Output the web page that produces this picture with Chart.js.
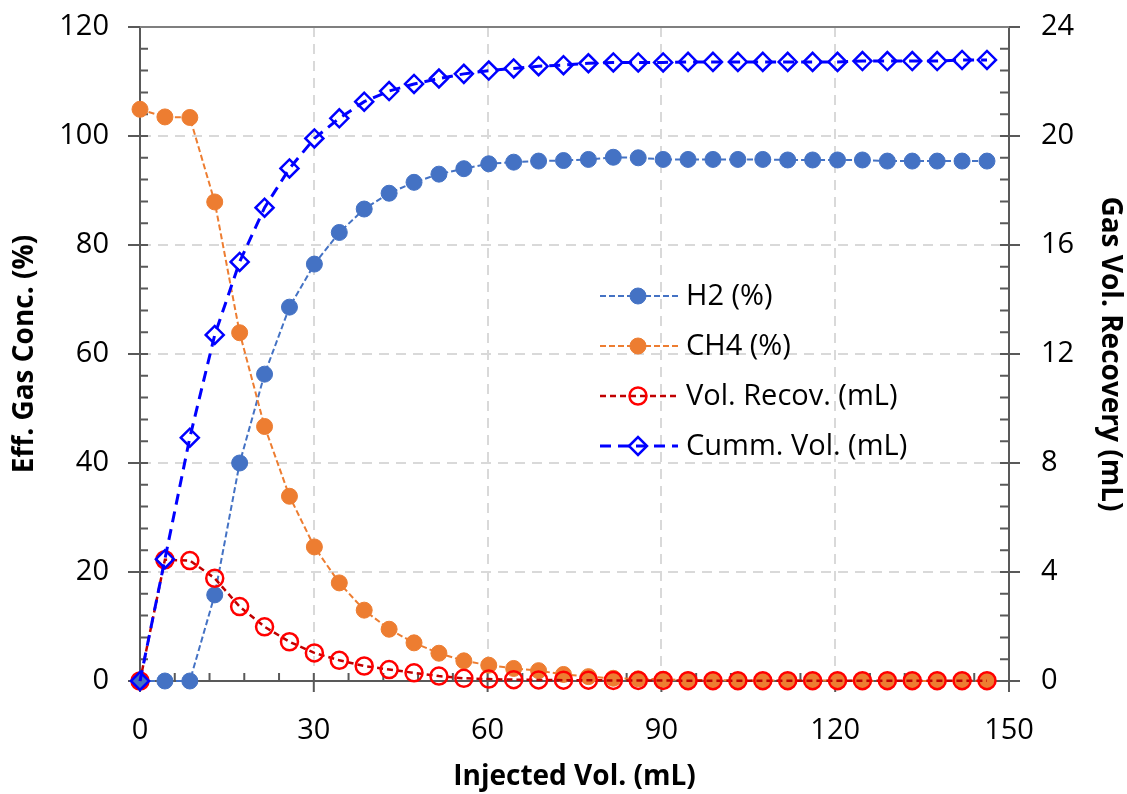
<!DOCTYPE html>
<html>
<head>
<meta charset="utf-8">
<script src="https://cdn.jsdelivr.net/npm/chart.js@4"></script>
<style>
  html, body { margin: 0; padding: 0; background: #fff; }
  #wrap { width: 1127px; height: 794px; }
</style>
</head>
<body>
<div id="wrap"><canvas id="c" width="1127" height="794"></canvas></div>
<script>
// data
const injectedVol = [0, 4.3, 8.6, 12.9, 17.2, 21.5, 25.8, 30.1, 34.4, 38.7, 43.0, 47.3, 51.6, 55.9,
  60.2, 64.5, 68.8, 73.1, 77.4, 81.7, 86.0, 90.3, 94.6, 98.9, 103.2, 107.5, 111.8, 116.1, 120.4,
  124.7, 129.0, 133.3, 137.6, 141.9, 146.2];
const h2Conc = [0, 0, 0, 15.8, 40.0, 56.3, 68.6, 76.5, 82.3, 86.6, 89.5, 91.5, 93.0, 94.0, 94.9,
  95.2, 95.4, 95.5, 95.7, 96.1, 96.0, 95.7, 95.7, 95.7, 95.7, 95.7, 95.6, 95.6, 95.6, 95.6,
  95.4, 95.4, 95.4, 95.4, 95.4];
const ch4Conc = [104.9, 103.5, 103.4, 87.9, 63.9, 46.7, 33.9, 24.6, 18.0, 13.0, 9.5, 7.0, 5.1, 3.7,
  2.9, 2.3, 1.9, 1.2, 0.8, 0.5, 0.4, 0.3, 0.2, 0.2, 0.1, 0.1, 0.1, 0.1, 0.1, 0, 0, 0, 0, 0, 0];
const volRecov = [0, 4.45, 4.42, 3.77, 2.73, 1.99, 1.44, 1.03, 0.76, 0.55, 0.42, 0.30, 0.18, 0.10,
  0.07, 0.05, 0.04, 0.03, 0.03, 0.02, 0.02, 0.02, 0.01, 0.01, 0.01, 0.01, 0.01, 0.01, 0.01, 0.01,
  0.01, 0.01, 0.01, 0.01, 0.01];
const cummVol = [0, 4.47, 8.93, 12.70, 15.38, 17.37, 18.81, 19.91, 20.65, 21.26, 21.65, 21.91, 22.11,
  22.28, 22.40, 22.48, 22.56, 22.60, 22.67, 22.70, 22.70, 22.70, 22.72, 22.72, 22.72, 22.72, 22.72,
  22.72, 22.72, 22.75, 22.75, 22.75, 22.75, 22.79, 22.79];

const xTickValues = [0, 30, 60, 90, 120, 150];
const leftTickValues = [0, 20, 40, 60, 80, 100, 120];
const rightTickValues = [0, 4, 8, 12, 16, 20, 24];

const FONT = '"Open Sans", "Noto Sans", sans-serif';
const AXIS = '#595959';
const pts = ys => injectedVol.map((x, i) => ({x: x, y: ys[i]}));
const setTicks = vals => scale => { scale.ticks = vals.map(v => ({value: v})); };
const gridColor = (lo, hi) => c => (c.tick && (c.tick.value === lo || c.tick.value === hi)) ? 'rgba(0,0,0,0)' : '#D9D9D9';
// fixed scale sizes, and no extra room reserved for labels hanging past the ends
const fitV = w => s => { s.width = w; s.paddingTop = 0; s.paddingBottom = 0; };
const fitH = h => s => { s.height = h; s.paddingLeft = 0; s.paddingRight = 0; };

// minor / crossing tick marks and the top frame line
const axisTicks = {
    id: 'axisTicks',
    beforeDatasetsDraw(chart) {
        const {ctx, chartArea: a, scales} = chart;
        ctx.save();
        ctx.strokeStyle = AXIS;
        ctx.lineWidth = 2;
        ctx.beginPath();
        for (let v = 0; v <= 150; v += 6) {
            const px = scales.x.getPixelForValue(v);
            const major = v % 30 === 0;
            ctx.moveTo(px, a.bottom - 8);
            ctx.lineTo(px, a.bottom + (major ? 11 : 0));
        }
        for (let v = 0; v <= 120; v += 4) {
            const py = scales.y.getPixelForValue(v);
            const major = v % 20 === 0;
            ctx.moveTo(a.left + 8, py);
            ctx.lineTo(a.left - (major ? 12 : 0), py);
        }
        for (let k = 0; k <= 30; k++) {
            const v = k * 0.8;
            const py = scales.y1.getPixelForValue(v);
            const major = k % 5 === 0;
            ctx.moveTo(a.right - 9, py);
            ctx.lineTo(a.right + (major ? 11 : 0), py);
        }
        ctx.stroke();
        ctx.strokeStyle = '#7f7f7f';
        ctx.beginPath();
        ctx.moveTo(a.left, a.top);
        ctx.lineTo(a.right, a.top);
        ctx.stroke();
        ctx.restore();
    }
};

function drawMarker(ctx, ds, x, y) {
    const r = ds.pointRadius;
    ctx.beginPath();
    if (ds.pointStyle === 'rectRot') {
        ctx.moveTo(x - r, y);
        ctx.lineTo(x, y - r);
        ctx.lineTo(x + r, y);
        ctx.lineTo(x, y + r);
        ctx.closePath();
    } else {
        ctx.arc(x, y, r, 0, Math.PI * 2);
    }
    ctx.fillStyle = ds.pointBackgroundColor;
    ctx.fill();
    ctx.lineWidth = ds.pointBorderWidth;
    ctx.strokeStyle = ds.pointBorderColor;
    ctx.stroke();
}

// legend with line + marker, inside the plot
const lineLegend = {
    id: 'lineLegend',
    afterDraw(chart) {
        const ctx = chart.ctx;
        chart.data.datasets.forEach((ds, i) => {
            const y = 296 + i * 50;
            ctx.save();
            ctx.strokeStyle = ds.borderColor;
            ctx.lineWidth = ds.borderWidth;
            ctx.setLineDash(ds.borderDash);
            ctx.beginPath();
            ctx.moveTo(600, y);
            ctx.lineTo(678, y);
            ctx.stroke();
            ctx.setLineDash([]);
            drawMarker(ctx, ds, 638, y);
            ctx.fillStyle = '#000';
            ctx.font = '29px ' + FONT;
            ctx.textBaseline = 'middle';
            ctx.textAlign = 'left';
            ctx.fillText(ds.label, 686, y + 1);
            ctx.restore();
        });
    }
};

new Chart(document.getElementById('c'), {
    type: 'line',
    data: {
        datasets: [{
            label: 'H2 (%)',
            data: pts(h2Conc),
            yAxisID: 'y',
            order: 4,
            borderColor: '#4472C4',
            borderWidth: 2,
            borderDash: [6, 3],
            pointStyle: 'circle',
            pointRadius: 8,
            pointBackgroundColor: '#4472C4',
            pointBorderColor: '#4472C4',
            pointBorderWidth: 1
        }, {
            label: 'CH4 (%)',
            data: pts(ch4Conc),
            yAxisID: 'y',
            order: 3,
            borderColor: '#ED7D31',
            borderWidth: 2,
            borderDash: [6, 3],
            pointStyle: 'circle',
            pointRadius: 8,
            pointBackgroundColor: '#ED7D31',
            pointBorderColor: '#ED7D31',
            pointBorderWidth: 1
        }, {
            label: 'Vol. Recov. (mL)',
            data: pts(volRecov),
            yAxisID: 'y1',
            order: 2,
            borderColor: '#C00000',
            borderWidth: 2.5,
            borderDash: [6, 4],
            pointStyle: 'circle',
            pointRadius: 8.5,
            pointBackgroundColor: 'rgba(0,0,0,0)',
            pointBorderColor: '#FF0000',
            pointBorderWidth: 2.5
        }, {
            label: 'Cumm. Vol. (mL)',
            data: pts(cummVol),
            yAxisID: 'y1',
            order: 1,
            borderColor: '#0000FF',
            borderWidth: 3,
            borderDash: [11, 7],
            pointStyle: 'rectRot',
            pointRadius: 9,
            pointBackgroundColor: 'rgba(0,0,0,0)',
            pointBorderColor: '#0000FF',
            pointBorderWidth: 2.5
        }]
    },
    options: {
        responsive: false,
        animation: false,
        devicePixelRatio: 1,
        layout: { padding: { top: 27, left: 0, right: 0, bottom: 0 } },
        elements: { line: { tension: 0 } },
        datasets: { line: { clip: false } },
        plugins: {
            legend: { display: false },
            tooltip: { enabled: false }
        },
        scales: {
            x: {
                type: 'linear',
                min: 0,
                max: 150,
                afterBuildTicks: setTicks(xTickValues),
                afterFit: fitH(113),
                ticks: { font: { family: FONT, size: 29 }, color: '#000', padding: 32, maxRotation: 0, autoSkip: false },
                grid: { color: gridColor(0, 150), lineWidth: 2, drawTicks: false },
                border: { color: AXIS, width: 2, dash: [10, 7] },
                title: { display: true, text: 'Injected Vol. (mL)', color: '#000',
                         font: { family: FONT, size: 28, weight: 'bold' }, padding: { top: 0, bottom: 0 } }
            },
            y: {
                position: 'left',
                min: 0,
                max: 120,
                afterBuildTicks: setTicks(leftTickValues),
                afterFit: fitV(140),
                ticks: { font: { family: FONT, size: 29 }, color: '#000', padding: 31 },
                grid: { color: gridColor(0, 120), lineWidth: 2, drawTicks: false },
                border: { color: AXIS, width: 2, dash: [10, 7] },
                title: { display: true, text: 'Eff. Gas Conc. (%)', color: '#000',
                         font: { family: FONT, size: 28, weight: 'bold' }, padding: { top: 8, bottom: 0 } }
            },
            y1: {
                position: 'right',
                min: 0,
                max: 24,
                afterBuildTicks: setTicks(rightTickValues),
                afterFit: fitV(118),
                ticks: { font: { family: FONT, size: 29 }, color: '#000', padding: 32 },
                grid: { drawOnChartArea: false, drawTicks: false },
                border: { color: AXIS, width: 2 },
                title: { display: true, text: 'Gas Vol. Recovery (mL)', color: '#000',
                         font: { family: FONT, size: 28, weight: 'bold' }, padding: { top: 0, bottom: 0 } }
            }
        }
    },
    plugins: [axisTicks, lineLegend]
});
</script>
</body>
</html>
